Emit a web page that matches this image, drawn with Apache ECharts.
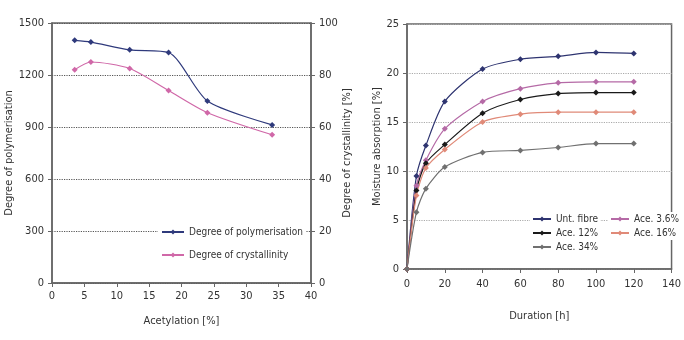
<!DOCTYPE html>
<html>
<head>
<meta charset="utf-8">
<script src="https://cdn.jsdelivr.net/npm/echarts@6/dist/echarts.min.js"></script>
<style>
  html, body { margin: 0; padding: 0; background: #fff; }
  #chart { width: 684px; height: 340px; }
</style>
</head>
<body>
<div id="chart"></div>
<script>
// left panel: acetylation vs polymerisation / crystallinity
var acetylation = [3.5, 6, 12, 18, 24, 34];
var polymerisation = [1400, 1390, 1345, 1330, 1050, 912];
var crystallinity = [82, 85, 82.5, 74, 65.5, 57];

// right panel: moisture absorption over time
var duration = [0, 5, 10, 20, 40, 60, 80, 100, 120];
var untFibre = [0, 9.5, 12.6, 17.1, 20.4, 21.4, 21.7, 22.1, 22.0];
var ace36 = [0, 8.5, 11.1, 14.3, 17.1, 18.4, 19.0, 19.1, 19.1];
var ace12 = [0, 8.0, 10.8, 12.7, 15.9, 17.3, 17.9, 18.0, 18.0];
var ace16 = [0, 7.5, 10.3, 12.2, 15.0, 15.8, 16.0, 16.0, 16.0];
var ace34 = [0, 5.8, 8.2, 10.4, 11.9, 12.1, 12.4, 12.8, 12.8];

function pairs(xs, ys) {
  return xs.map(function (x, i) { return [x, ys[i]]; });
}

var font = "'Liberation Sans Narrow', 'DejaVu Sans Condensed', 'Liberation Sans', Arial, sans-serif";
var txt = { color: '#333', fontSize: 11, fontFamily: font };
var legTxt = { color: '#333', fontSize: 10, fontFamily: font };
// no thousands separator on tick labels
var plain = Object.assign({ formatter: function (v) { return String(v); } }, txt);

function lineSeries(name, color, data, xi, yi) {
  return {
    name: name,
    type: 'line',
    xAxisIndex: xi,
    yAxisIndex: yi,
    data: data,
    symbol: 'diamond',
    symbolSize: 6,
    lineStyle: { color: color, width: 1.2 },
    itemStyle: { color: color },
    smooth: 0.25
  };
}

var chart = echarts.init(document.getElementById('chart'));
chart.setOption({
  backgroundColor: '#fff',
  animation: false,
  textStyle: { fontFamily: font },
  grid: [
    { left: 52, right: 373, top: 23, bottom: 57, show: true, borderColor: '#666', borderWidth: 1.5 },
    { left: 407, right: 8, top: 24, bottom: 71, show: true, borderColor: '#666', borderWidth: 1.5 }
  ],
  legend: [
    {
      data: ['Degree of polymerisation', 'Degree of crystallinity'],
      orient: 'vertical', left: 158, top: 225,
      itemWidth: 22, itemHeight: 6, itemGap: 13,
      backgroundColor: '#fff', padding: [2, 3],
      textStyle: legTxt
    },
    {
      data: ['Unt. fibre', 'Ace. 12%', 'Ace. 34%'],
      orient: 'vertical', left: 530, top: 212, itemGap: 4,
      itemWidth: 18, itemHeight: 6,
      backgroundColor: '#fff', padding: [2, 2],
      textStyle: legTxt
    },
    {
      data: ['Ace. 3.6%', 'Ace. 16%'],
      orient: 'vertical', left: 608, top: 212, itemGap: 4,
      itemWidth: 18, itemHeight: 6,
      backgroundColor: '#fff', padding: [2, 2],
      textStyle: legTxt
    }
  ],
  xAxis: [
    {
      gridIndex: 0, type: 'value', min: 0, max: 40, interval: 5,
      name: 'Acetylation [%]', nameLocation: 'middle', nameGap: 33, nameTextStyle: txt,
      axisLine: { lineStyle: { color: '#666', width: 1.5 } },
      axisTick: { show: true, length: 4, lineStyle: { color: '#666' } },
      axisLabel: plain,
      splitLine: { show: false }
    },
    {
      gridIndex: 1, type: 'value', min: 0, max: 140, interval: 20,
      name: 'Duration [h]', nameLocation: 'middle', nameGap: 42, nameTextStyle: txt,
      axisLine: { lineStyle: { color: '#666', width: 1.5 } },
      axisTick: { show: true, length: 4, lineStyle: { color: '#666' } },
      axisLabel: Object.assign({ margin: 10 }, plain),
      splitLine: { show: false }
    }
  ],
  yAxis: [
    {
      gridIndex: 0, type: 'value', min: 0, max: 1500, interval: 300,
      name: 'Degree of polymerisation', nameLocation: 'middle', nameGap: 34, nameRotate: 90,
      nameTextStyle: txt,
      axisLine: { show: true, lineStyle: { color: '#666', width: 1.5 } },
      axisTick: { show: true, length: 4, lineStyle: { color: '#666' } },
      axisLabel: plain,
      splitLine: { show: true, lineStyle: { color: '#555', type: 'dotted', width: 1.2 } }
    },
    {
      gridIndex: 0, type: 'value', min: 0, max: 100, interval: 20, position: 'right',
      name: 'Degree of crystallinity [%]', nameLocation: 'middle', nameGap: 26, nameRotate: 90,
      nameTextStyle: txt,
      axisLine: { show: true, lineStyle: { color: '#666', width: 1.5 } },
      axisTick: { show: true, length: 4, lineStyle: { color: '#666' } },
      axisLabel: plain,
      splitLine: { show: false }
    },
    {
      gridIndex: 1, type: 'value', min: 0, max: 25, interval: 5,
      name: 'Moisture absorption [%]', nameLocation: 'middle', nameGap: 24, nameRotate: 90,
      nameTextStyle: txt,
      axisLine: { show: true, lineStyle: { color: '#666', width: 1.5 } },
      axisTick: { show: true, length: 4, lineStyle: { color: '#666' } },
      axisLabel: plain,
      splitLine: { show: true, lineStyle: { color: '#aaa', type: 'dotted', width: 1.2 } }
    }
  ],
  series: [
    lineSeries('Degree of polymerisation', '#2f3a7c', pairs(acetylation, polymerisation), 0, 0),
    lineSeries('Degree of crystallinity', '#d068a8', pairs(acetylation, crystallinity), 0, 1),
    lineSeries('Unt. fibre', '#2e3470', pairs(duration, untFibre), 1, 2),
    lineSeries('Ace. 3.6%', '#b56aa6', pairs(duration, ace36), 1, 2),
    lineSeries('Ace. 12%', '#1a1a1a', pairs(duration, ace12), 1, 2),
    lineSeries('Ace. 16%', '#e08a78', pairs(duration, ace16), 1, 2),
    lineSeries('Ace. 34%', '#707070', pairs(duration, ace34), 1, 2)
  ]
});
</script>
</body>
</html>
